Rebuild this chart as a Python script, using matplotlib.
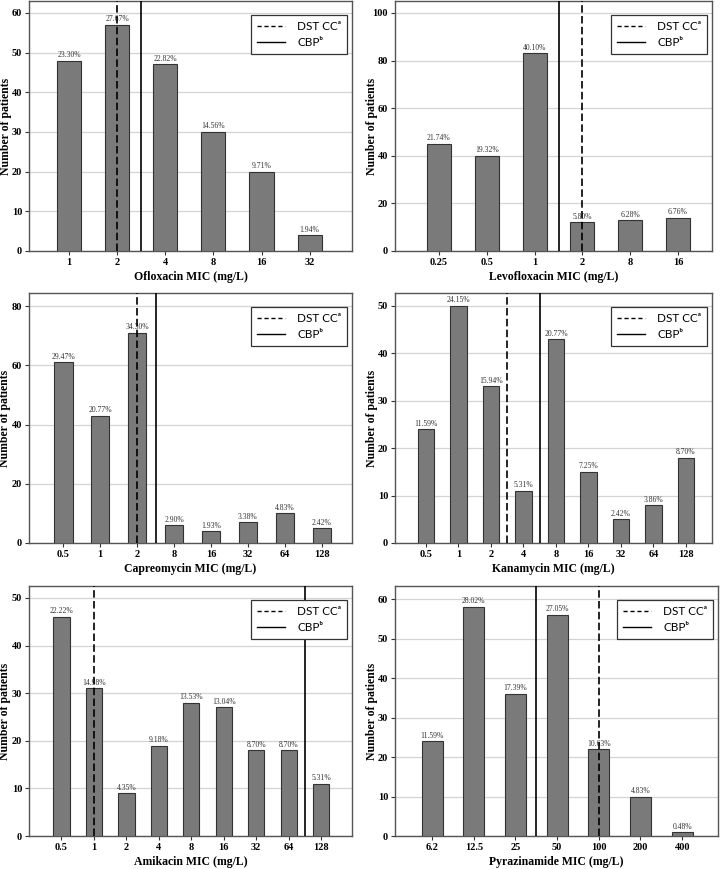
import matplotlib
matplotlib.use("Agg")
import matplotlib.pyplot as plt
from matplotlib.lines import Line2D

# data
oflo_mic = ["1", "2", "4", "8", "16", "32"]
oflo_n = [48, 57, 47, 30, 20, 4]
oflo_pct = ["23.30%", "27.67%", "22.82%", "14.56%", "9.71%", "1.94%"]

levo_mic = ["0.25", "0.5", "1", "2", "8", "16"]
levo_n = [45, 40, 83, 12, 13, 14]
levo_pct = ["21.74%", "19.32%", "40.10%", "5.80%", "6.28%", "6.76%"]

capr_mic = ["0.5", "1", "2", "8", "16", "32", "64", "128"]
capr_n = [61, 43, 71, 6, 4, 7, 10, 5]
capr_pct = ["29.47%", "20.77%", "34.30%", "2.90%", "1.93%", "3.38%", "4.83%", "2.42%"]

kana_mic = ["0.5", "1", "2", "4", "8", "16", "32", "64", "128"]
kana_n = [24, 50, 33, 11, 43, 15, 5, 8, 18]
kana_pct = ["11.59%", "24.15%", "15.94%", "5.31%", "20.77%", "7.25%", "2.42%", "3.86%", "8.70%"]

amik_mic = ["0.5", "1", "2", "4", "8", "16", "32", "64", "128"]
amik_n = [46, 31, 9, 19, 28, 27, 18, 18, 11]
amik_pct = ["22.22%", "14.98%", "4.35%", "9.18%", "13.53%", "13.04%", "8.70%", "8.70%", "5.31%"]

pyra_mic = ["6.2", "12.5", "25", "50", "100", "200", "400"]
pyra_n = [24, 58, 36, 56, 22, 10, 1]
pyra_pct = ["11.59%", "28.02%", "17.39%", "27.05%", "10.63%", "4.83%", "0.48%"]

W, H = 720, 869
fig = plt.figure(figsize=(W / 100, H / 100), dpi=100)
fig.patch.set_facecolor("white")

serif = "Liberation Serif"
legend_font = ["Lato", "DejaVu Sans"]


def rect(l, t, r, b):
    return [l / W, 1 - b / H, (r - l) / W, (b - t) / H]


def panel(box, mic, n, pct, name, ylim, ystep, xlim, dst, cbp, ylab_x):
    ax = fig.add_axes(rect(*box))
    w = box[2] - box[0]
    h = box[3] - box[1]
    x = list(range(len(mic)))
    ax.bar(x, n, width=0.5, color="#7a7a7a", edgecolor="#333333", linewidth=0.8, zorder=3)
    for xi, v, p in zip(x, n, pct):
        ax.text(xi, v + ylim * 0.006, p, ha="center", va="bottom",
                fontsize=5.5, family=serif, color="#333333", zorder=4)
    ax.axvline(dst, color="black", linestyle=(0, (4.5, 2)), linewidth=1.2, zorder=5)
    ax.axvline(cbp, color="black", linewidth=1.2, zorder=5)
    ax.set_xlim(*xlim)
    ax.set_ylim(0, ylim)
    ax.set_xticks(x)
    ax.set_xticklabels(mic)
    ax.set_yticks(range(0, int(ylim) + 1, ystep))
    ax.yaxis.grid(True, color="#d4d4d4", linewidth=0.9, zorder=0)
    ax.set_axisbelow(True)
    for s in ax.spines.values():
        s.set_color("#555555")
        s.set_linewidth(1.0)
    ax.tick_params(direction="out", length=3, width=0.8, color="#333333", pad=2)
    for lab in ax.get_xticklabels() + ax.get_yticklabels():
        lab.set_family(serif)
        lab.set_fontweight("bold")
        lab.set_fontsize(7.5)
    ax.set_xlabel(name + " MIC (mg/L)", family=serif, fontweight="bold",
                  fontsize=8.5, va="center")
    ax.xaxis.set_label_coords(0.5, -26 / h)
    ax.set_ylabel("Number of patients", family=serif, fontweight="bold",
                  fontsize=8.5, va="center")
    ax.yaxis.set_label_coords((ylab_x - box[0]) / w, 0.5)
    handles = [Line2D([], [], color="black", linestyle=(0, (3, 2)), linewidth=1.0),
               Line2D([], [], color="black", linewidth=1.0)]
    leg = ax.legend(handles, ["DST CC\u1d43", "CBP\u1d47"], loc="upper right",
                    bbox_to_anchor=(1 - 5 / w, 1 - 14 / h), borderaxespad=0,
                    prop={"family": legend_font, "size": 8.5},
                    handlelength=2.4, handletextpad=1.0, labelspacing=0.45,
                    borderpad=0.5, fancybox=False, framealpha=1)
    leg.get_frame().set_edgecolor("#333333")
    leg.get_frame().set_linewidth(0.9)
    leg.set_zorder(6)
    return ax


panel((29, 1, 352, 251), oflo_mic, oflo_n, oflo_pct, "Ofloxacin",
      63, 10, (-0.83, 5.88), 1, 1.5, 6)
panel((395, 1, 712, 251), levo_mic, levo_n, levo_pct, "Levofloxacin",
      105, 20, (-0.92, 5.71), 3, 2.5, 372)
panel((29, 293, 352, 543), capr_mic, capr_n, capr_pct, "Capreomycin",
      84.4, 20, (-0.93, 7.82), 2, 2.5, 5)
panel((395, 293, 712, 543), kana_mic, kana_n, kana_pct, "Kanamycin",
      52.7, 10, (-0.95, 8.8), 2.5, 3.5, 372)
panel((29, 586, 352, 836), amik_mic, amik_n, amik_pct, "Amikacin",
      52.5, 10, (-1.0, 8.95), 1, 7.5, 5)
panel((395, 586, 718, 836), pyra_mic, pyra_n, pyra_pct, "Pyrazinamide",
      63.3, 10, (-0.89, 6.86), 4, 2.5, 372)

fig.savefig("out.png", dpi=100)
